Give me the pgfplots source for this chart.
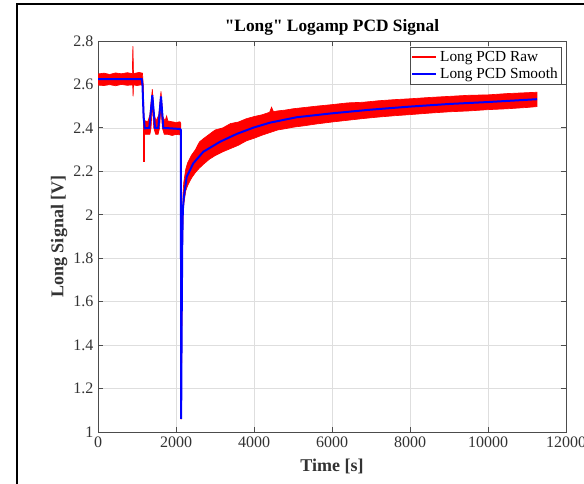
\documentclass[border=0pt]{standalone}
\usepackage{pgfplots}
\pgfplotsset{compat=1.18}
\usepackage{fontspec}
\setmainfont{Liberation Serif}[Ligatures=TeXOff]
\definecolor{axgray}{gray}{0.3}
\definecolor{txtgray}{gray}{0.2}
\definecolor{gridgray}{gray}{0.87}

\pgfplotstableread{
x y
0 2.648
150 2.652
300 2.646
450 2.653
600 2.649
750 2.654
880 2.650
895 2.776
910 2.650
1050 2.655
1140 2.652
1160 2.60
1180 2.45
1200 2.432
1280 2.43
1330 2.46
1393 2.578
1440 2.46
1490 2.432
1560 2.46
1615 2.568
1665 2.45
1720 2.432
1760 2.455
1790 2.432
1900 2.428
2000 2.425
2100 2.428
2125 2.42
2132 1.10
2150 1.55
2165 1.93
2180 2.10
2200 2.15
2250 2.21
2300 2.24
2400 2.275
2500 2.30
2600 2.335
2700 2.35
2850 2.37
3000 2.39
3200 2.40
3400 2.42
3600 2.427
3800 2.442
4000 2.452
4200 2.46
4400 2.472
4450 2.495
4500 2.474
4600 2.478
4800 2.482
5000 2.488
5300 2.494
5600 2.50
6000 2.507
6400 2.515
6800 2.518
7200 2.525
7600 2.53
8000 2.534
8500 2.54
9000 2.545
9500 2.55
10000 2.552
10500 2.558
11000 2.562
11256 2.564
11256 2.498
11000 2.494
10500 2.488
10000 2.484
9500 2.478
9000 2.474
8500 2.468
8000 2.461
7600 2.456
7200 2.45
6800 2.443
6400 2.435
6000 2.427
5600 2.418
5300 2.41
5000 2.403
4800 2.396
4600 2.39
4400 2.378
4200 2.366
4000 2.352
3800 2.34
3600 2.32
3400 2.305
3200 2.29
3000 2.272
2850 2.255
2700 2.232
2600 2.215
2500 2.195
2400 2.17
2300 2.135
2250 2.11
2200 2.05
2180 1.99
2165 1.80
2150 1.45
2136 1.06
2128 1.06
2125 2.37
2100 2.368
2000 2.37
1900 2.365
1800 2.37
1700 2.37
1650 2.40
1615 2.50
1580 2.40
1540 2.37
1480 2.37
1430 2.40
1393 2.51
1360 2.40
1330 2.37
1200 2.37
1170 2.37
1150 2.55
1140 2.597
1100 2.598
1000 2.595
910 2.598
900 2.545
890 2.598
750 2.596
600 2.600
450 2.594
300 2.599
150 2.595
0 2.597
0 2.648
}\rawband

\pgfplotstableread{
x y
0 2.624
1120 2.624
1140 2.60
1170 2.45
1200 2.398
1316 2.40
1393 2.55
1462 2.40
1547 2.40
1615 2.545
1675 2.40
2100 2.395
2125 2.39
2132 1.06
2145 1.50
2160 1.86
2175 2.02
2200 2.08
2274 2.175
2444 2.237
2700 2.29
3128 2.336
3556 2.372
3982 2.401
4410 2.424
5095 2.449
6000 2.467
7000 2.484
8000 2.498
9000 2.510
10000 2.519
11256 2.532
}\smooth

\begin{document}
\begin{tikzpicture}
\useasboundingbox (0,0) rectangle (438pt,363pt);
\clip (0,0) rectangle (438pt,363pt);
\fill[white] (0,0) rectangle (438pt,363pt);
\draw[black, line width=1.5pt] (12.75pt,-20pt) -- (12.75pt,360pt) -- (470pt,360pt);
\begin{axis}[
  at={(73.5pt,39pt)}, anchor=south west,
  scale only axis, width=351pt, height=293.25pt,
  xmin=0, xmax=12000, ymin=1, ymax=2.8,
  scaled x ticks=false,
  xtick={0,2000,4000,6000,8000,10000,12000},
  xticklabels={0,2000,4000,6000,8000,10000,12000},
  ytick={1,1.2,1.4,1.6,1.8,2,2.2,2.4,2.6,2.8},
  yticklabels={1,1.2,1.4,1.6,1.8,2,2.2,2.4,2.6,2.8},
  /pgf/number format/assume math mode=true,
  tick align=inside,
  major tick length=3.5pt,
  axis line style={axgray, line width=0.6pt},
  tick style={axgray, line width=0.6pt},
  grid=major,
  major grid style={gridgray, line width=0.5pt},
  ticklabel style={font=\fontsize{12}{14}\selectfont, text=txtgray},
  every axis title shift=0pt,
  title={"Long" Logamp PCD Signal},
  title style={font=\bfseries\fontsize{13}{15}\selectfont, at={(axis description cs:0.5,1.036)}, anchor=center, inner sep=0pt},
  xlabel={Time [s]},
  xlabel style={font=\bfseries\fontsize{13.5}{15}\selectfont, text=txtgray, at={(axis description cs:0.5,-0.0887)}, anchor=center, inner sep=0pt},
  ylabel={Long Signal [V]},
  ylabel style={font=\bfseries\fontsize{13.5}{15}\selectfont, text=txtgray, at={(axis description cs:-0.083,0.5)}, anchor=center, inner sep=0pt},
  legend style={at={(axis description cs:1,1)}, anchor=north east, xshift=-3pt, yshift=-4.5pt,
    draw=axgray, fill=white, font=\fontsize{11.5}{13}\selectfont, inner xsep=1pt, inner ysep=1pt,
    row sep=-1pt},
  legend cell align=left,
]
\addplot[draw=red, fill=red, line width=0.5pt, forget plot] table[x=x,y=y] {\rawband};
\addplot[draw=red, line width=1.2pt, forget plot] coordinates {(1187,2.41) (1187,2.244)};
\addplot[draw=blue, line width=1.5pt, forget plot] table[x=x,y=y] {\smooth};
\addlegendimage{legend image code/.code={\draw[color=red, line width=1.3pt] (0pt,0pt) -- (18pt,0pt);}}
\addlegendentry{Long PCD Raw}
\addlegendimage{legend image code/.code={\draw[color=blue, line width=1.5pt] (0pt,0pt) -- (18pt,0pt);}}
\addlegendentry{Long PCD Smooth}
\end{axis}
\end{tikzpicture}
\end{document}
